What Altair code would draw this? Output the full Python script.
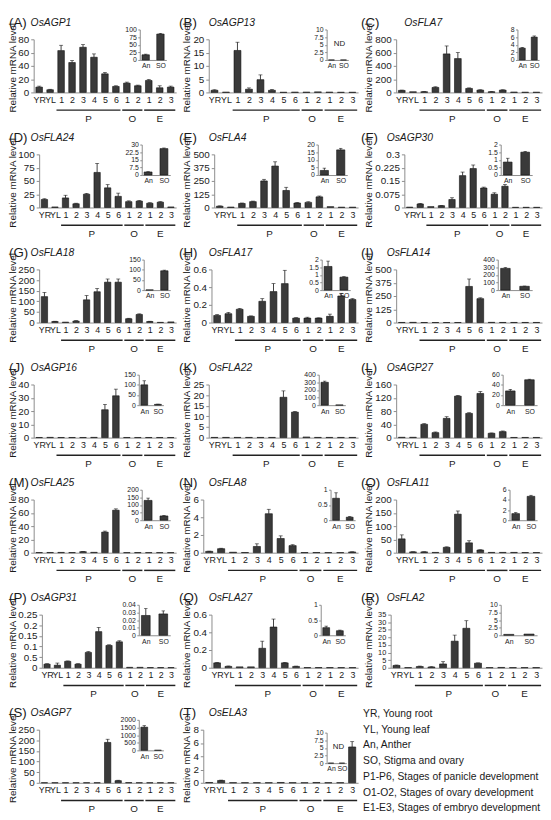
import altair as alt
import pandas as pd

# ---------------- data ----------------
CATS = ['YR', 'YL', 'P1', 'P2', 'P3', 'P4', 'P5', 'P6', 'O1', 'O2', 'E1', 'E2', 'E3']
CAT_LABELS = ['YR', 'YL', '1', '2', '3', '4', '5', '6', '1', '2', '1', '2', '3']
INSET_LABELS = ['An', 'SO']
GROUP_NAMES = ['P', 'O', 'E']

LETTERS = ['A', 'B', 'C', 'D', 'E', 'F', 'G', 'H', 'I', 'J', 'K', 'L', 'M', 'N', 'O', 'P', 'Q', 'R', 'S', 'T']
GENES = ['OsAGP1', 'OsAGP13', 'OsFLA7', 'OsFLA24', 'OsFLA4', 'OsAGP30', 'OsFLA18', 'OsFLA17', 'OsFLA14',
         'OsAGP16', 'OsFLA22', 'OsAGP27', 'OsFLA25', 'OsFLA8', 'OsFLA11', 'OsAGP31', 'OsFLA27', 'OsFLA2',
         'OsAGP7', 'OsELA3']

A_main = [8, 4, 63, 45, 68, 53, 28, 9, 14, 10, 18, 7, 8]
A_err = [1.5, 0.7, 8, 3, 4, 5, 2, 1, 1.5, 1, 1.5, 3, 1.5]
A_ins = [17, 85]
A_ins_err = [2, 2]
A_ticks = [0, 20, 40, 60, 80]
A_ins_ticks = [0, 25, 50, 75, 100]

B_main = [0.8, 0.1, 15.8, 1.2, 4.8, 0.8, 0.05, 0.1, 0.1, 0.2, 0.1, 0.05, 0.05]
B_err = [0.2, 0, 3.1, 0.5, 1.8, 0.3, 0, 0, 0, 0, 0, 0, 0]
B_ins = [0, 0]
B_ins_err = [0, 0]
B_ticks = [0, 5, 10, 15, 20]
B_ins_ticks = [0, 2.5, 5, 7.5, 10]

C_main = [30, 10, 10, 75, 580, 510, 60, 35, 10, 35, 5, 3, 3]
C_err = [5, 0, 3, 10, 120, 90, 8, 5, 3, 5, 0, 0, 0]
C_ins = [3.1, 6.0]
C_ins_err = [0.2, 0.3]
C_ticks = [0, 200, 400, 600, 800]
C_ins_ticks = [0, 2, 4, 6, 8]

D_main = [15, 1, 18, 7, 25, 66, 37, 21, 11, 12, 8, 10, 1]
D_err = [1.5, 0, 5, 1, 1.5, 17, 6, 6, 1.5, 1, 1, 1, 0]
D_ins = [3, 26]
D_ins_err = [0.3, 0.6]
D_ticks = [0, 25, 50, 75, 100]
D_ins_ticks = [0, 7.5, 15, 22.5, 30]

E_main = [12, 4, 38, 55, 250, 390, 160, 42, 48, 100, 8, 3, 3]
E_err = [3, 0, 4, 5, 15, 40, 30, 4, 6, 8, 0, 0, 0]
E_ins = [3, 16.5]
E_ins_err = [1.5, 1]
E_ticks = [0, 125, 250, 375, 500]
E_ins_ticks = [0, 5, 10, 15, 20]

F_main = [0.002, 0.02, 0.005, 0.01, 0.045, 0.18, 0.22, 0.11, 0.075, 0.12, 0.001, 0.001, 0.001]
F_err = [0, 0.003, 0, 0.001, 0.01, 0.02, 0.02, 0.005, 0.008, 0.01, 0, 0, 0]
F_ins = [0.85, 1.5]
F_ins_err = [0.25, 0.05]
F_ticks = [0, 0.075, 0.15, 0.225, 0.3]
F_ins_ticks = [0, 0.5, 1, 1.5, 2]

G_main = [122, 5, 2, 7, 107, 145, 190, 190, 18, 38, 5, 1, 3]
G_err = [20, 1, 0, 2, 20, 15, 15, 15, 2, 3, 1, 0, 0]
G_ins = [1, 95]
G_ins_err = [0, 3]
G_ticks = [0, 50, 100, 150, 200, 250]
G_ins_ticks = [0, 50, 100, 150]

H_main = [0.08, 0.1, 0.15, 0.07, 0.24, 0.35, 0.44, 0.05, 0.05, 0.05, 0.07, 0.3, 0.26]
H_err = [0.01, 0.015, 0.01, 0.005, 0.03, 0.09, 0.15, 0.005, 0.01, 0.003, 0.025, 0.03, 0.01]
H_ins = [1.55, 0.85]
H_ins_err = [0.35, 0.03]
H_ticks = [0, 0.2, 0.4, 0.6]
H_ins_ticks = [0, 0.5, 1, 1.5, 2]

I_main = [1, 2, 0.5, 0.5, 0.5, 0.5, 340, 225, 2, 1, 1, 1, 1]
I_err = [0, 0, 0, 0, 0, 0, 70, 8, 0, 0, 0, 0, 0]
I_ins = [285, 50]
I_ins_err = [10, 3]
I_ticks = [0, 125, 250, 375, 500]
I_ins_ticks = [0, 100, 200, 300, 400]

J_main = [0.1, 0.2, 0.1, 0.1, 0.1, 0.2, 21, 31.5, 0.1, 0.1, 0.1, 0.1, 0.1]
J_err = [0, 0, 0, 0, 0, 0, 4, 5, 0, 0, 0, 0, 0]
J_ins = [100, 4]
J_ins_err = [20, 1]
J_ticks = [0, 10, 20, 30, 40]
J_ins_ticks = [0, 50, 100, 150]

K_main = [0.1, 0.1, 0.1, 0.1, 0.1, 0.1, 19, 12, 0.3, 0.1, 0.1, 0.1, 0.1]
K_err = [0, 0, 0, 0, 0, 0, 3, 0.3, 0, 0, 0, 0, 0]
K_ins = [300, 3]
K_ins_err = [15, 0]
K_ticks = [0, 5, 10, 15, 20, 25]
K_ins_ticks = [0, 100, 200, 300, 400]

L_main = [1, 1, 40, 15, 58, 125, 73, 133, 13, 18, 0.5, 0.5, 0.5]
L_err = [0, 0, 2, 2, 5, 2, 2, 6, 1, 2, 0, 0, 0]
L_ins = [28, 50]
L_ins_err = [3, 1]
L_ticks = [0, 40, 80, 120, 160]
L_ins_ticks = [0, 20, 40, 60]

M_main = [0.2, 0.3, 0.4, 0.2, 1.5, 0.5, 31, 64, 0.1, 0.1, 0.1, 0.1, 0.1]
M_err = [0, 0, 0, 0, 0.3, 0, 1.5, 2, 0, 0, 0, 0, 0]
M_ins = [130, 28]
M_ins_err = [15, 3]
M_ticks = [0, 20, 40, 60, 80]
M_ins_ticks = [0, 50, 100, 150, 200]

N_main = [0.15, 0.45, 0.05, 0.02, 0.7, 4.4, 1.6, 0.8, 0.01, 0.02, 0.01, 0.01, 0.08]
N_err = [0.02, 0.05, 0, 0, 0.3, 0.5, 0.3, 0.1, 0, 0, 0, 0, 0.02]
N_ins = [0.72, 0.1]
N_ins_err = [0.18, 0.02]
N_ticks = [0, 2, 4, 6]
N_ins_ticks = [0, 0.5, 1]

O_main = [52, 3, 3, 1, 20, 145, 37, 10, 1, 1, 1, 0.5, 0.5]
O_err = [15, 0.5, 0.5, 0, 2, 12, 8, 1, 0, 0, 0, 0, 0]
O_ins = [1.3, 4.7]
O_ins_err = [0.2, 0.2]
O_ticks = [0, 50, 100, 150, 200]
O_ins_ticks = [0, 2, 4, 6]

P_main = [0.017, 0.012, 0.03, 0.017, 0.072, 0.17, 0.105, 0.122, 0.002, 0.002, 0.001, 0.001, 0.001]
P_err = [0.002, 0.01, 0.002, 0.002, 0.004, 0.02, 0.003, 0.005, 0, 0, 0, 0, 0]
P_ins = [0.026, 0.028]
P_ins_err = [0.009, 0.004]
P_ticks = [0, 0.05, 0.1, 0.15, 0.2, 0.25]
P_ins_ticks = [0, 0.01, 0.02, 0.03, 0.04]

Q_main = [0.055, 0.015, 0.01, 0.01, 0.22, 0.46, 0.055, 0.015, 0.002, 0.002, 0.002, 0.002, 0.002]
Q_err = [0.005, 0.005, 0, 0, 0.08, 0.09, 0.005, 0.003, 0, 0, 0, 0, 0]
Q_ins = [0.25, 0.15]
Q_ins_err = [0.05, 0.02]
Q_ticks = [0, 0.2, 0.4, 0.6]
Q_ins_ticks = [0, 0.5, 1]

R_main = [1.5, 0.1, 0.8, 0.5, 2.5, 17.5, 26, 3, 0.1, 0.2, 0.1, 0.1, 0.1]
R_err = [0.3, 0, 0.3, 0.2, 1.5, 4, 5, 0.2, 0, 0, 0, 0, 0]
R_ins = [0.3, 0.4]
R_ins_err = [0, 0]
R_ticks = [0, 5, 10, 15, 20, 25, 30, 35]
R_ins_ticks = [0, 2.5, 5, 7.5, 10]

S_main = [0.5, 0.5, 0.5, 0.5, 0.5, 0.5, 190, 10, 1, 0.5, 0.5, 0.5, 0.5]
S_err = [0, 0, 0, 0, 0, 0, 15, 2, 0, 0, 0, 0, 0]
S_ins = [1520, 10]
S_ins_err = [100, 0]
S_ticks = [0, 50, 100, 150, 200, 250]
S_ins_ticks = [0, 500, 1000, 1500, 2000]

T_main = [0.05, 0.35, 0.02, 0.02, 0.02, 0.02, 0.05, 0.02, 0.02, 0.05, 0.02, 0.02, 5.4]
T_err = [0, 0.05, 0, 0, 0, 0, 0, 0, 0, 0, 0, 0, 0.8]
T_ins = [0, 0]
T_ins_err = [0, 0]
T_ticks = [0, 2, 4, 6, 8]
T_ins_ticks = [0, 2.5, 5, 7.5, 10]

NOT_DETECTED = ['B', 'T']

LEGEND_LINES = ["YR, Young root", "YL, Young leaf", "An, Anther", "SO, Stigma and ovary",
                "P1-P6, Stages of panicle development", "O1-O2, Stages of ovary development",
                "E1-E3, Stages of embryo development"]

# ---------------- layout (styles / positions) ----------------
FONT = "Liberation Sans"
TXT = "#1a1a1a"
BAR = "#3a3a3a"
AXC = "#8c8c8c"
COL_LEFT = [8, 181, 366]
COL_W = [173, 185, 185]
REF_X0 = [0, 181, 366]
COL_R = [178, 182, 184]
ROW_H = [116.3] * 6 + [111]
Y_TOP, Y_ZERO, Y_LINE, Y_GLAB = 25, 79, 97, 106
I_TOP, I_BOT = 15, 46
INSET_X = {'A': (141, 168), 'B': (150, 172), 'C': (159, 181), 'D': (143, 172), 'E': (141, 171),
           'F': (142, 174), 'G': (145, 172), 'H': (145, 174), 'I': (139, 174), 'J': (140, 165),
           'K': (142, 169), 'L': (144, 179), 'M': (143, 172), 'N': (154, 179), 'O': (151, 179),
           'P': (140, 172), 'Q': (144, 169), 'R': (142, 179), 'S': (140, 165), 'T': (150, 170)}
INSET_Y = {'T': (28, 59)}
GENE_X = [22, 30, 26]

g = globals()


def fmt(v):
    return f"{v:g}"


def lab_w(s, fs):
    return sum(0.278 if ch == '.' else 0.556 for ch in s) * fs


def txt(text, x, y, size, **kw):
    return alt.Chart(alt.Data(values=[{}])).mark_text(
        text=text, fontSize=size, font=FONT, color=TXT, **kw
    ).encode(x=alt.value(x), y=alt.value(y))


def js_list(items):
    return "[" + ",".join("'" + s + "'" for s in items) + "]"


def make_panel(k, letter):
    r, c = divmod(k, 3)
    cw, ch = COL_W[c], ROW_H[r]
    sh = REF_X0[c] - COL_LEFT[c]
    main = g[letter + '_main']
    err = g[letter + '_err']
    ins = g[letter + '_ins']
    ins_err = g[letter + '_ins_err']
    ticks = g[letter + '_ticks']
    iticks = g[letter + '_ins_ticks']

    tfs = 10 if len(ticks) <= 6 else 7.5
    w = max(lab_w(fmt(t), 10) for t in ticks)
    if c == 0:
        L = 14 + w
        ytx = 4.5
    else:
        L = 19 + w
        ytx = 8
    R = COL_R[c] + sh
    pitch = (R - L) / len(CATS)

    dfm = pd.DataFrame({'i': list(range(len(CATS))), 'cat': CATS, 'v': main, 'e': err})
    dfm['top'] = dfm['v'] + dfm['e']
    xs = alt.Scale(domain=[-0.5, len(CATS) - 0.5], range=[L, R], nice=False, zero=False, padding=0)
    ys = alt.Scale(domain=[0, ticks[-1]], range=[Y_ZERO, Y_TOP], nice=False, zero=True, padding=0)

    if letter == 'P':
        ylab = "datum.value == 0.05 ? '0.5' : '' + datum.value"
    else:
        ylab = "'' + datum.value"

    xaxis = alt.Axis(
        orient='bottom', offset=Y_ZERO - ch, values=list(range(len(CATS))),
        labelExpr=js_list(CAT_LABELS) + "[datum.value]", ticks=False, grid=False,
        domainColor=AXC, labelPadding=3, labelFontSize=9, labelFont=FONT, labelColor=TXT,
        labelAngle=0, labelFlush=False, labelOverlap=False, title=None)
    yaxis = alt.Axis(
        orient='left', offset=-L, values=ticks, labelExpr=ylab, grid=False,
        domainColor=AXC, tickColor=AXC, tickSize=3, labelPadding=2, labelFontSize=tfs,
        labelFont=FONT, labelColor=TXT, labelOverlap=False, labelFlush=False, title=None)

    bars = alt.Chart(dfm).mark_bar(size=pitch * 0.6, color=BAR, stroke='#111', strokeWidth=0.6,
                                   orient='vertical').encode(
        x=alt.X('i:Q', scale=xs, axis=xaxis),
        y=alt.Y('v:Q', scale=ys, stack=None, axis=yaxis),
    )
    dfe = dfm[dfm['e'] > 0]
    errs = alt.Chart(dfe).mark_rule(color='#111', strokeWidth=0.8).encode(
        x=alt.X('i:Q', scale=xs, axis=xaxis), y=alt.Y('v:Q', scale=ys, axis=yaxis), y2='top:Q')
    caps = alt.Chart(dfe).mark_tick(orient='horizontal', size=4, thickness=0.8, color='#111').encode(
        x=alt.X('i:Q', scale=xs, axis=xaxis), y=alt.Y('top:Q', scale=ys, axis=yaxis))

    # group underlines derived from the category list
    starts, ends = [], []
    for gname in GROUP_NAMES:
        idx = [i for i, cat in enumerate(CATS) if cat.startswith(gname)]
        starts.append(min(idx))
        ends.append(max(idx))
    dfg = pd.DataFrame({'g': GROUP_NAMES, 's': starts, 'e': ends})
    dfg['xa'] = dfg['s'] - 0.42
    dfg['xb'] = dfg['e'] + 0.42
    dfg['xm'] = (dfg['s'] + dfg['e']) / 2
    glines = alt.Chart(dfg).mark_rule(color='#222', strokeWidth=1.5).encode(
        x=alt.X('xa:Q', scale=xs, axis=xaxis), x2='xb:Q', y=alt.value(Y_LINE))
    glabs = alt.Chart(dfg).mark_text(fontSize=10, font=FONT, color=TXT, baseline='middle').encode(
        x=alt.X('xm:Q', scale=xs, axis=xaxis), y=alt.value(Y_GLAB), text='g:N')

    main_layer = alt.layer(bars, errs, caps, glines, glabs)

    # inset
    IL, IR = INSET_X[letter]
    IL += sh
    IR += sh
    itop, ibot = INSET_Y.get(letter, (I_TOP, I_BOT))
    ipitch = (IR - IL) / 1.8
    dfi = pd.DataFrame({'j': [0, 1], 'lab': INSET_LABELS, 'v': ins, 'e': ins_err})
    dfi['top'] = dfi['v'] + dfi['e']
    ixs = alt.Scale(domain=[-0.4, 1.4], range=[IL, IR], nice=False, zero=False, padding=0)
    iys = alt.Scale(domain=[0, iticks[-1]], range=[ibot, itop], nice=False, zero=True, padding=0)
    ixaxis = alt.Axis(
        orient='bottom', offset=ibot - ch, values=[0, 1],
        labelExpr=js_list(INSET_LABELS) + "[datum.value]", ticks=False, grid=False,
        domainColor=AXC, labelPadding=2, labelFontSize=7, labelFont=FONT, labelColor=TXT,
        labelAngle=0, labelFlush=False, labelOverlap=False, title=None)
    iyaxis = alt.Axis(
        orient='left', offset=-IL, values=iticks, labelExpr="'' + datum.value", grid=False,
        domainColor=AXC, tickColor=AXC, tickSize=2, labelPadding=1.5, labelFontSize=7,
        labelFont=FONT, labelColor=TXT, labelOverlap=False, labelFlush=False, title=None)
    ibars = alt.Chart(dfi).mark_bar(size=ipitch * 0.5, color=BAR, stroke='#111', strokeWidth=0.6,
                                    orient='vertical').encode(
        x=alt.X('j:Q', scale=ixs, axis=ixaxis),
        y=alt.Y('v:Q', scale=iys, stack=None, axis=iyaxis),
    )
    dfie = dfi[dfi['e'] > 0]
    inset_layers = [ibars]
    if len(dfie):
        inset_layers.append(alt.Chart(dfie).mark_rule(color='#111', strokeWidth=0.8).encode(
            x=alt.X('j:Q', scale=ixs, axis=ixaxis), y=alt.Y('v:Q', scale=iys, axis=iyaxis), y2='top:Q'))
        inset_layers.append(alt.Chart(dfie).mark_tick(orient='horizontal', size=3.5, thickness=0.8,
                                                      color='#111').encode(
            x=alt.X('j:Q', scale=ixs, axis=ixaxis), y=alt.Y('top:Q', scale=iys, axis=iyaxis)))
    inset_layer = alt.layer(*inset_layers)

    gx = GENE_X[c] if letter != 'C' else 44
    annots = [
        txt('(' + letter + ')', 0, 8, 13.5, align='left', baseline='middle'),
        txt(GENES[k], gx, 8, 10.5, align='left', baseline='middle', fontStyle='italic'),
        txt('Relative mRNA level', ytx, (Y_TOP + Y_ZERO) / 2 + 2, 10, angle=270, align='center',
            baseline='middle'),
    ]
    if letter in NOT_DETECTED:
        annots.append(txt('ND', (IL + IR) / 2 + 2, (itop + ibot) / 2 - 1, 8, align='center',
                          baseline='middle'))

    return alt.layer(main_layer, inset_layer, *annots).resolve_scale(
        x='independent', y='independent').properties(width=cw, height=ch)


cells = [make_panel(k, letter) for k, letter in enumerate(LETTERS)]

legend_layers = [txt(line, 2, 9 + 16 * n, 10.5, align='left', baseline='middle')
                 for n, line in enumerate(LEGEND_LINES)]
cells.append(alt.layer(*legend_layers).properties(width=COL_W[2], height=ROW_H[6]))

chart = alt.concat(*cells, columns=3, spacing=0, bounds='flush').properties(padding=0).configure(
    font=FONT).configure_view(stroke=None)

chart.save("out.html", embed_options={"renderer": "svg", "actions": False})
